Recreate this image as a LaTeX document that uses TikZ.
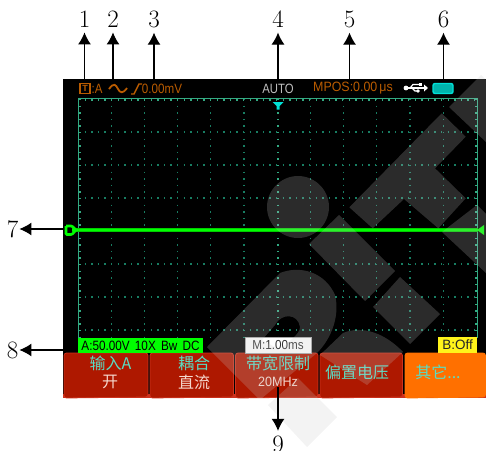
\documentclass[tikz,border=0pt]{standalone}
\usepackage{fontspec}
\usepackage{xcolor}
\usetikzlibrary{arrows.meta}
\newfontfamily\lcdfont{Liberation Sans}
\newfontfamily\cjkfont{Noto Sans CJK SC}
\definecolor{lcdorange}{RGB}{186,92,0}
\definecolor{lcdgrid}{RGB}{24,125,98}
\definecolor{lcdframe}{RGB}{50,170,130}
\definecolor{lcdcyan}{RGB}{0,225,215}
\definecolor{menured}{RGB}{174,24,0}
\definecolor{menurim}{RGB}{205,50,30}
\definecolor{menuorange}{RGB}{255,112,0}
\definecolor{menutext}{RGB}{90,220,195}
\definecolor{menuwhite}{RGB}{245,215,205}
\definecolor{mark}{RGB}{200,200,200}
\tikzset{
  num/.style={inner xsep=1pt, inner ysep=5pt, font=\fontsize{25}{25}\selectfont},
  callout/.style={line width=1.1pt, -{Latex[length=12pt,width=13pt]}},
  griddots/.style={lcdgrid, line width=1.3pt, dash pattern=on 1.3pt off 5.3pt},
  menubtn/.style={fill=menured, draw=menurim, line width=0.8pt, rounded corners=2.5pt},
  lcd/.style={inner sep=0pt, font=\lcdfont\fontsize{13.5}{14}\selectfont},
  menucjk/.style={inner sep=0pt, text=menutext, font=\cjkfont\fontsize{16}{16}\selectfont},
  wmark/.style={fill=mark, fill opacity=0.22}
}
\begin{document}
\begin{tikzpicture}[x=1pt, y=-1pt]
    \useasboundingbox (0, 0) rectangle (486, 450);

    \fill [black] (63, 79) rectangle (486, 398);
    \fill [menurim] (63, 394) rectangle (486, 398);

    \foreach \x in {111.2, 144.4, 177.6, 210.8, 244, 310.4, 343.6, 376.8, 410, 443.2}
      \draw [griddots] (\x, 99) -- (\x, 337);
    \draw [griddots, lcdframe, line width=1.6pt] (278, 99) -- (278, 337);
    \foreach \y in {132, 165, 198, 264, 297, 330}
      \draw [griddots] (78, \y) -- (477, \y);
    \draw [lcdframe, line width=1pt] (78, 337) -- (78, 98) -- (477, 98) -- (477, 337);
    \draw [griddots, lcdframe, line width=3pt] (78, 99) -- (477, 99);
    \draw [griddots, lcdframe, line width=3pt] (79, 99) -- (79, 337);
    \draw [griddots, lcdframe, line width=3pt] (476, 99) -- (476, 337);

    \draw [menubtn] (64, 398) |- (148, 353) -- (148, 397) -- cycle;
    \draw [menubtn] (150, 398) |- (233.5, 353) -- (233.5, 397) -- cycle;
    \draw [menubtn] (235.5, 398) |- (318, 353) -- (318, 397) -- cycle;
    \draw [menubtn] (320, 398) |- (402.5, 353) -- (402.5, 397) -- cycle;
    \draw [menubtn, fill=menuorange, draw=menuorange] (405, 398) |- (485.5, 353) -- (485.5, 397) -- cycle;

    \node (tbox) [draw=lcdorange, line width=1.3pt, minimum width=10pt, minimum height=10pt, inner sep=0pt, text=lcdorange, font=\lcdfont\bfseries\fontsize{9}{9}\selectfont] at (85, 88.5) {T};
    \node (chan) [lcd, text=lcdorange, xscale=0.85] at (97, 88.5) {:A};
    \draw [lcdorange, line width=1.8pt] (109, 89) .. controls (114, 82) and (116, 85) .. (118, 89) .. controls (120, 93) and (123, 94) .. (127, 88);
    \draw [lcdorange, line width=1.4pt] (131, 94) -- (134, 94) -- (139, 84) -- (142, 84);
    \node (volt) [lcd, text=lcdorange, xscale=0.86] at (162, 88.5) {0.00mV};
    \node (auto) [lcd, text=black!25, xscale=0.84] at (278, 88.5) {AUTO};
    \node (mpos) [lcd, text=lcdorange, xscale=0.92] at (353, 88.5) {MPOS:0.00\,μs};

    \draw [white, line width=2pt] (406, 88) -- (426, 88);
    \draw [white, line width=1.2pt] (410, 88) -- (413, 84.5) -- (419, 84.5);
    \draw [white, line width=1.2pt] (412, 88) -- (415, 91) -- (419, 91);
    \fill [white] (406, 88) circle (2.4);
    \fill [white] (419, 83) rectangle (422, 86);
    \fill [white] (418, 91) circle (1.8);
    \fill [white] (424, 84.5) -- (428, 88) -- (424, 91.5) -- cycle;
    \draw [lcdcyan, line width=1.4pt, rounded corners=2pt, fill=lcdcyan!80!black] (433, 83.5) rectangle (453, 93.5);

    \fill [lcdcyan] (272.5, 102) -- (283.5, 102) -- (279.5, 106) -- (279.5, 109.5) -- (276.5, 109.5) -- (276.5, 106) -- cycle;

    \draw [green!80!black, line width=3.2pt] (72, 230) -- (478, 230);
    \draw [green, line width=1.6pt] (72, 230) -- (478, 230);
    \draw [green, line width=2.6pt, rounded corners=1pt] (66, 226) -- (72, 226) -- (76, 230) -- (72, 234.5) -- (66, 234.5) -- (66, 226);
    \fill [green] (477, 230) -- (484, 225) -- (484, 235) -- cycle;

    \node (abox) [fill=green, minimum width=125pt, minimum height=15pt, inner sep=0pt, font=\lcdfont\fontsize{13.5}{14}\selectfont, xscale=1] at (140.5, 345.5) {\scalebox{0.87}[1]{A:50.00V\, 10X\, Bw\, DC}};
    \node (mbox) [fill=white, draw=black!35, minimum width=66pt, minimum height=16pt, inner sep=0pt, font=\lcdfont\fontsize{13}{14}\selectfont, text=black!80] at (278, 345) {\scalebox{0.9}[1]{M:1.00ms}};
    \node (bbox) [fill=yellow!90!white, minimum width=39pt, minimum height=16pt, inner sep=0pt, font=\lcdfont\fontsize{13.5}{14}\selectfont, text=black!85] at (457.5, 345) {B:Off};

    \node (m1) [menucjk] at (110.5, 363) {输入A};
    \node (m2) [menucjk, text=menuwhite] at (110, 382) {开};
    \node (m3) [menucjk] at (194, 363) {耦合};
    \node (m4) [menucjk, text=menuwhite] at (194, 382) {直流};
    \node (m5) [menucjk] at (278, 363) {带宽限制};
    \node (m6) [lcd, text=menuwhite, xscale=0.93] at (278, 382) {20MHz};
    \node (m7) [menucjk] at (357, 372) {偏置电压};
    \node (m8) [menucjk] at (438, 372) {其它...};

    \fill [wmark] (441.7, 113.3) -- (465.7, 136.7) -- (435, 168.3) -- (465.7, 198.3) -- (438.3, 228.3) -- (404, 199) -- (372.7, 228.3) -- (349.3, 207.3) -- cycle;
    \fill [wmark] (449, 107) -- (481, 75) -- (486, 80) -- (486, 142) -- cycle;
    \fill [wmark] (477, 205) -- (486, 214) -- (486, 273) -- (442, 232) -- cycle;
    \fill [wmark] (339, 215) -- (395, 271) -- (365, 301) -- (309, 244) -- cycle;
    \fill [wmark] (400, 277) -- (440, 314) -- (410, 344) -- (373, 307) -- cycle;
    \fill [wmark] (320, 355) -- (343, 333) .. controls (362, 325) and (385, 333) .. (403, 352) -- (367, 385) -- cycle;
    \fill [wmark] (268, 405) -- (298, 378) -- (337, 417) -- (307, 447) -- cycle;
    \fill [wmark] (298, 176) .. controls (315, 176) and (329, 190) .. (329, 207) .. controls (329, 224) and (315, 238) .. (298, 238) .. controls (281, 238) and (267, 224) .. (267, 207) .. controls (267, 190) and (281, 176) .. (298, 176) -- cycle;
    \fill [wmark, even odd rule] (207, 347) -- (280, 273) .. controls (300, 265) and (325, 272) .. (335, 295) .. controls (340, 315) and (332, 338) .. (317, 353) -- (262, 398) -- (258, 398) -- cycle
      (262, 340) -- (275, 325) .. controls (281, 313) and (298, 313) .. (300, 327) .. controls (300, 334) and (290, 340) .. (280, 350) -- cycle;

    \node (a) [num] at (84.5, 19) {1};
    \node (b) [num] at (113, 19) {2};
    \node (c) [num] at (154, 19) {3};
    \node (d) [num] at (278, 19) {4};
    \node (e) [num] at (349.5, 19) {5};
    \node (f) [num] at (443.5, 19) {6};
    \node (g) [num] at (12.5, 229) {7};
    \node (h) [num] at (12.5, 350) {8};
    \node (i) [num] at (278, 444.5) {9};

    \coordinate (pa) at (84.5, 79);
    \coordinate (pb) at (113, 79);
    \coordinate (pc) at (154, 79);
    \coordinate (pd) at (278, 79);
    \coordinate (pe) at (349.5, 79);
    \coordinate (pf) at (443.5, 79);
    \coordinate (pg) at (64, 229);
    \coordinate (ph) at (64, 350);
    \coordinate (pi) at (278, 387);

    \draw [callout] (pa) to (a);
    \draw [callout] (pb) to (b);
    \draw [callout] (pc) to (c);
    \draw [callout] (pd) to (d);
    \draw [callout] (pe) to (e);
    \draw [callout] (pf) to (f);
    \draw [callout] (pg) to (g);
    \draw [callout] (ph) to (h);
    \draw [callout] (pi) to (i);
\end{tikzpicture}
\end{document}
